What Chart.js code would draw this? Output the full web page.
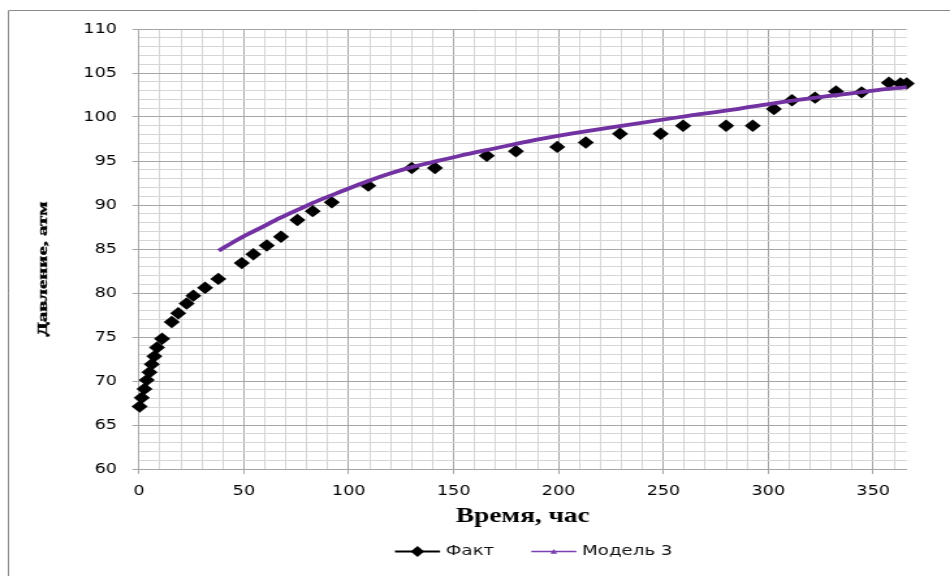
<!DOCTYPE html>
<html lang="ru">
<head>
<meta charset="utf-8">
<title>Давление, атм — Время, час</title>
<script src="https://cdn.jsdelivr.net/npm/chart.js@4.4.1/dist/chart.umd.min.js"></script>
<style>
  html, body { margin: 0; padding: 0; background: #fff; overflow: hidden; }
</style>
</head>
<body>
<!-- the drawing buffer is 730 px wide and shown widened to 950 px -->
<canvas id="chart" width="730" height="576" style="display:block;width:950px;height:576px"></canvas>
<script>
// Measured pressure (Факт)
const factTime = [0.3, 1.3, 2.6, 3.7, 5.0, 6.1, 7.3, 8.6, 11.0, 15.6, 18.7, 22.7, 25.9, 31.5, 37.8,
  49.0, 54.5, 60.9, 67.7, 75.5, 82.8, 91.9, 109.3, 130.0, 141.1, 165.8, 179.7, 199.4, 213.0,
  229.3, 248.7, 259.4, 279.9, 292.6, 302.7, 311.3, 322.3, 332.3, 344.5, 357.5, 363.0, 366.0];
const factPressure = [67.1, 68.1, 69.1, 70.1, 71.0, 71.9, 72.8, 73.8, 74.8, 76.7, 77.7, 78.8, 79.7, 80.6, 81.6,
  83.4, 84.4, 85.4, 86.4, 88.3, 89.3, 90.3, 92.2, 94.2, 94.2, 95.6, 96.1, 96.6, 97.1,
  98.1, 98.1, 99.0, 99.0, 99.0, 100.9, 101.9, 102.2, 102.9, 102.8, 103.9, 103.8, 103.8];

// Model 3 curve
const modelTime = [38, 48, 58, 67, 77, 86, 96, 109, 120, 130, 144, 153, 170, 185, 206,
  230, 258, 285, 301, 316, 333, 350, 366];
const modelPressure = [84.8, 86.2, 87.4, 88.5, 89.6, 90.55, 91.5, 92.7, 93.6, 94.3, 95.1, 95.6, 96.45, 97.2, 98.1,
  99.0, 100.0, 100.9, 101.5, 102.0, 102.5, 103.0, 103.4];

// Labelled ticks
const xTickLabels = [0, 50, 100, 150, 200, 250, 300, 350];
const yTickLabels = [60, 65, 70, 75, 80, 85, 90, 95, 100, 105, 110];

const seriesNames = ['Факт', 'Модель 3'];
const xTitle = 'Время, час';
const yTitle = 'Давление, атм';

const FACT_COLOR = '#000000';
const MODEL_COLOR = '#7232a2';
const MAJOR_GRID = '#a6a6a6';
const MINOR_GRID = '#d6d6d6';
const TICK_FONT = { family: '"DejaVu Sans", Verdana, sans-serif', size: 13.5 };

const toPoints = (xs, ys) => xs.map((x, i) => ({ x, y: ys[i] }));

// Frame, rotated y title and the legend row
const decorations = {
  id: 'decorations',
  beforeDraw(chart) {
    const ctx = chart.ctx;
    ctx.save();
    ctx.fillStyle = '#fff';
    ctx.fillRect(0, 0, chart.width, chart.height);
    ctx.strokeStyle = '#8c8c8c';
    ctx.lineWidth = 1;
    ctx.beginPath();
    ctx.moveTo(6.5, chart.height + 5);
    ctx.lineTo(6.5, 10.5);
    ctx.lineTo(chart.width + 5, 10.5);
    ctx.stroke();
    ctx.restore();
  },
  afterDraw(chart) {
    const ctx = chart.ctx;

    // y axis title, tall narrow lettering
    ctx.save();
    ctx.font = 'bold 11px "Liberation Serif", "Times New Roman", serif';
    const w = ctx.measureText(yTitle).width;
    ctx.translate(36.3, 269);
    ctx.rotate(-Math.PI / 2);
    ctx.scale(135 / w, 1);
    ctx.fillStyle = '#000';
    ctx.strokeStyle = '#000';
    ctx.lineWidth = 0.35;
    ctx.textAlign = 'center';
    ctx.textBaseline = 'alphabetic';
    ctx.fillText(yTitle, 0, 0);
    ctx.strokeText(yTitle, 0, 0);
    ctx.restore();

    // legend
    const y = 551.5;
    const lineLen = 34.6, textGap = 4.4, itemGap = 28.5;
    ctx.save();
    ctx.font = '14px "DejaVu Sans", Verdana, sans-serif';
    ctx.textBaseline = 'middle';
    let x = 303.5;
    chart.data.datasets.forEach((ds, i) => {
      const cx = x + lineLen / 2;
      ctx.strokeStyle = ds.legendLine;
      ctx.lineWidth = i === 0 ? 2 : 1.6;
      ctx.beginPath();
      ctx.moveTo(x, y);
      ctx.lineTo(x + lineLen, y);
      ctx.stroke();
      ctx.fillStyle = ds.legendLine;
      ctx.beginPath();
      if (i === 0) {
        ctx.moveTo(cx - 5.2, y);
        ctx.lineTo(cx, y - 5.4);
        ctx.lineTo(cx + 5.2, y);
        ctx.lineTo(cx, y + 5.4);
      } else {
        ctx.moveTo(cx - 2.6, y + 2.2);
        ctx.lineTo(cx, y - 2.6);
        ctx.lineTo(cx + 2.6, y + 2.2);
      }
      ctx.closePath();
      ctx.fill();
      ctx.fillStyle = '#111';
      ctx.fillText(ds.label, x + lineLen + textGap, y);
      x += lineLen + textGap + ctx.measureText(ds.label).width + itemGap;
    });
    ctx.restore();
  }
};

const isMajorX = v => xTickLabels.includes(Math.round(v));
const isMajorY = v => yTickLabels.includes(Math.round(v));

new Chart(document.getElementById('chart'), {
  type: 'scatter',
  data: {
    datasets: [
      {
        label: seriesNames[0],
        data: toPoints(factTime, factPressure),
        showLine: false,
        pointStyle: 'rectRot',
        pointRadius: 6.2,
        pointBorderWidth: 0,
        backgroundColor: FACT_COLOR,
        borderColor: FACT_COLOR,
        legendLine: FACT_COLOR,
        clip: false,
        order: 1
      },
      {
        label: seriesNames[1],
        data: toPoints(modelTime, modelPressure),
        showLine: true,
        cubicInterpolationMode: 'monotone',
        borderColor: MODEL_COLOR,
        backgroundColor: MODEL_COLOR,
        borderWidth: 3.8,
        pointStyle: 'triangle',
        pointRadius: 0,
        legendLine: '#7a3fb0',
        clip: false,
        order: 0
      }
    ]
  },
  options: {
    responsive: false,
    devicePixelRatio: 1,
    animation: false,
    events: [],
    layout: { padding: { left: 0, top: 29, right: 33.27, bottom: 47 } },
    plugins: { legend: { display: false }, tooltip: { enabled: false } },
    scales: {
      x: {
        type: 'linear',
        min: 0,
        max: 366,
        afterFit(scale) { scale.height = 60; },
        ticks: {
          stepSize: 10,
          autoSkip: false,
          includeBounds: false,
          maxRotation: 0,
          padding: 9,
          color: '#000',
          font: TICK_FONT,
          callback: v => (isMajorX(v) ? String(Math.round(v)) : '')
        },
        grid: {
          color: c => (isMajorX(c.tick.value) ? MAJOR_GRID : MINOR_GRID),
          tickColor: c => (isMajorX(c.tick.value) ? MAJOR_GRID : 'rgba(0,0,0,0)'),
          tickLength: 5,
          lineWidth: 1
        },
        border: { color: MAJOR_GRID, width: 1 },
        title: {
          display: true,
          text: xTitle,
          color: '#000',
          padding: { top: 0, bottom: 0 },
          font: { family: '"Liberation Serif", "Times New Roman", serif', size: 21, weight: 'bold' }
        }
      },
      y: {
        type: 'linear',
        min: 60,
        max: 110,
        afterFit(scale) { scale.width = 106.81; },
        ticks: {
          stepSize: 1,
          autoSkip: false,
          padding: 12,
          color: '#000',
          font: TICK_FONT,
          callback: v => (isMajorY(v) ? String(Math.round(v)) : '')
        },
        grid: {
          color: c => (isMajorY(c.tick.value) ? MAJOR_GRID : MINOR_GRID),
          tickColor: c => (isMajorY(c.tick.value) ? MAJOR_GRID : 'rgba(0,0,0,0)'),
          tickLength: 5,
          lineWidth: 1
        },
        border: { color: MAJOR_GRID, width: 1 },
        title: { display: false }
      }
    }
  },
  plugins: [decorations]
});
</script>
</body>
</html>
